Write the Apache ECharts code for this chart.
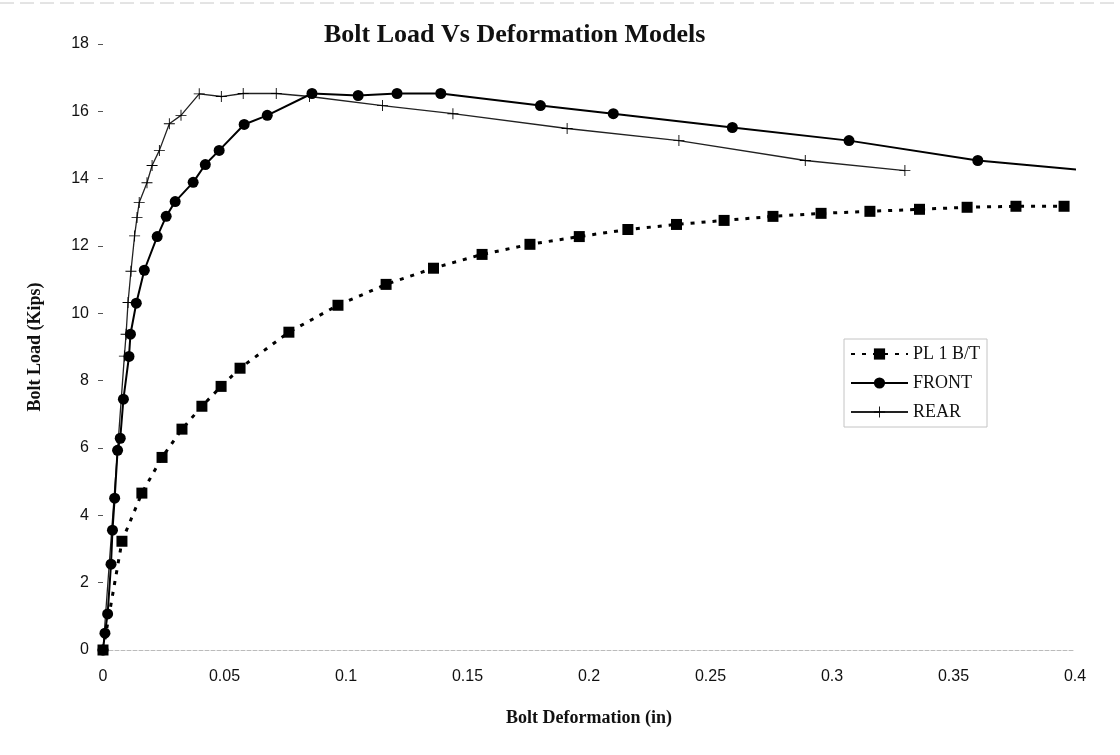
<!DOCTYPE html>
<html>
<head>
<meta charset="utf-8">
<script src="https://cdn.jsdelivr.net/npm/echarts@6/dist/echarts.min.js"></script>
<style>
html,body{margin:0;padding:0;background:#fff;}
#chart{width:1120px;height:755px;}
</style>
</head>
<body>
<div id="chart"></div>
<script>
// Tick labels
var xTicks = [0, 0.05, 0.1, 0.15, 0.2, 0.25, 0.3, 0.35, 0.4];
var yTicks = [0, 2, 4, 6, 8, 10, 12, 14, 16, 18];

// PL 1 B/T
var plX = [0, 0.0078, 0.016, 0.0243, 0.0325, 0.0407, 0.0486, 0.0564, 0.0765, 0.0967, 0.1165, 0.136, 0.156, 0.1757, 0.196, 0.216, 0.236, 0.2556, 0.2757, 0.2955, 0.3156, 0.336, 0.3556, 0.3757, 0.3955];
var plY = [0, 3.23, 4.66, 5.72, 6.56, 7.24, 7.83, 8.37, 9.44, 10.24, 10.86, 11.34, 11.75, 12.05, 12.28, 12.49, 12.64, 12.76, 12.88, 12.97, 13.03, 13.09, 13.15, 13.18, 13.18];

// FRONT
var frontX = [0, 0.0008, 0.0019, 0.0033, 0.0039, 0.0048, 0.0060, 0.0071, 0.0084, 0.0107, 0.0113, 0.0137, 0.0170, 0.0223, 0.0260, 0.0297, 0.0371, 0.0421, 0.0478, 0.0581, 0.0676, 0.086, 0.105, 0.121, 0.139, 0.180, 0.210, 0.259, 0.307, 0.360, 0.401];
var frontY = [0, 0.5, 1.07, 2.55, 3.56, 4.51, 5.93, 6.29, 7.45, 8.72, 9.38, 10.3, 11.28, 12.28, 12.88, 13.32, 13.89, 14.42, 14.84, 15.61, 15.88, 16.53, 16.47, 16.53, 16.53, 16.17, 15.93, 15.52, 15.13, 14.54, 14.27];

// REAR
var rearX = [0, 0.0088, 0.0095, 0.0103, 0.0115, 0.0130, 0.0140, 0.0149, 0.0181, 0.0202, 0.0232, 0.0273, 0.0321, 0.0396, 0.0487, 0.0577, 0.0713, 0.085, 0.115, 0.144, 0.191, 0.237, 0.289, 0.330];
var rearY = [0, 8.73, 9.38, 10.32, 11.25, 12.3, 12.85, 13.29, 13.88, 14.39, 14.84, 15.63, 15.88, 16.52, 16.44, 16.53, 16.53, 16.44, 16.17, 15.93, 15.49, 15.13, 14.54, 14.24];

function pairs(xs, ys){ return xs.map(function(x,i){ return [x, ys[i]]; }); }

var crossPath = 'path://M4.6,0H5.4V4.6H10V5.4H5.4V10H4.6V5.4H0V4.6H4.6Z';
var serif = '"Liberation Serif","Times New Roman",serif';
var sans = '"Liberation Sans",Arial,sans-serif';

var chart = echarts.init(document.getElementById('chart'), null, {renderer:'canvas'});
chart.setOption({
  animation: false,
  backgroundColor: '#ffffff',
  title: {
    text: 'Bolt Load Vs Deformation Models',
    left: 319, top: 17,
    textStyle: {fontFamily: serif, fontWeight: 'bold', fontSize: 26, color: '#111'}
  },
  graphic: [
    {type: 'line', shape: {x1: 0, y1: 3, x2: 1120, y2: 3}, style: {stroke: '#c8c8c8', lineWidth: 1, lineDash: [14, 6]}, silent: true}
  ],
  grid: {left: 103, right: 45, top: 44, bottom: 105},
  legend: {
    orient: 'vertical',
    left: 844, top: 339,
    itemWidth: 57, itemHeight: 14, itemGap: 11,
    padding: [6, 7, 6, 6],
    borderColor: '#c4c4c4', borderWidth: 1,
    textStyle: {fontFamily: serif, fontSize: 18, color: '#111'},
    data: ['PL 1 B/T', 'FRONT', 'REAR']
  },
  xAxis: {
    type: 'value', min: 0, max: 0.4, interval: 0.05,
    name: 'Bolt Deformation (in)', nameLocation: 'middle', nameGap: 59,
    nameTextStyle: {fontFamily: serif, fontWeight: 'bold', fontSize: 18, color: '#111'},
    axisLine: {show: true, lineStyle: {color: '#bbb', width: 1, type: 'dashed'}},
    axisTick: {show: false},
    splitLine: {show: false},
    axisLabel: {margin: 19, fontFamily: sans, fontSize: 16, color: '#111',
      formatter: function(v){ var i = xTicks.findIndex(function(t){return Math.abs(t-v)<1e-9;}); return i>=0 ? String(xTicks[i]) : ''; }}
  },
  yAxis: {
    type: 'value', min: 0, max: 18, interval: 2,
    name: 'Bolt Load (Kips)', nameLocation: 'middle', nameGap: 59, nameRotate: 90,
    nameTextStyle: {fontFamily: serif, fontWeight: 'bold', fontSize: 18, color: '#111'},
    axisLine: {show: false},
    axisTick: {show: true, length: 5, lineStyle: {color: '#555'}},
    splitLine: {show: false},
    axisLabel: {margin: 14, fontFamily: sans, fontSize: 16, color: '#111',
      formatter: function(v){ return yTicks.indexOf(v) >= 0 ? String(v) : ''; }}
  },
  series: [
    {
      name: 'PL 1 B/T', type: 'line', data: pairs(plX, plY),
      symbol: 'rect', symbolSize: 11,
      itemStyle: {color: '#000'},
      lineStyle: {color: '#000', width: 3, type: [4, 7]},
      z: 3
    },
    {
      name: 'FRONT', type: 'line', data: pairs(frontX, frontY),
      symbol: 'circle', symbolSize: 11,
      itemStyle: {color: '#000'},
      lineStyle: {color: '#000', width: 2},
      z: 4
    },
    {
      name: 'REAR', type: 'line', data: pairs(rearX, rearY),
      symbol: crossPath, symbolSize: 11,
      itemStyle: {color: '#000'},
      lineStyle: {color: '#222', width: 1.3},
      z: 2
    }
  ]
});
</script>
</body>
</html>
